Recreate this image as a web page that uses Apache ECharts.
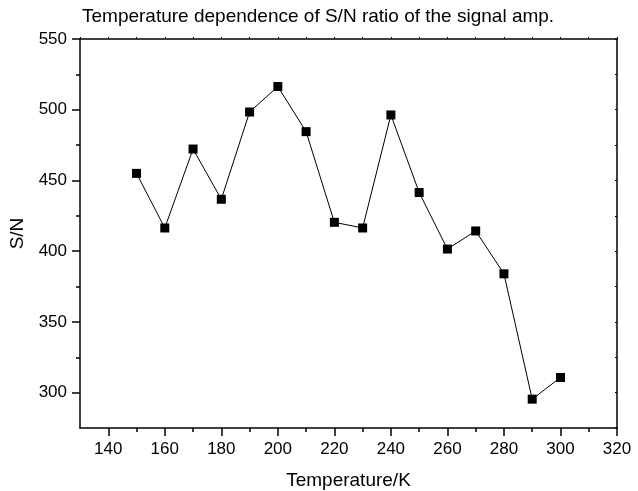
<!DOCTYPE html>
<html>
<head>
<meta charset="utf-8">
<script src="https://cdn.jsdelivr.net/npm/echarts@6/dist/echarts.min.js"></script>
<style>
html, body { margin: 0; padding: 0; background: #fff; }
#chart { width: 638px; height: 491px; }
</style>
</head>
<body>
<div id="chart"></div>
<script>
// temperatures (K) and measured S/N
var temps = [150, 160, 170, 180, 190, 200, 210, 220, 230, 240, 250, 260, 270, 280, 290, 300];
var snr = [455, 416.4, 472.2, 436.7, 498.4, 516.4, 484.5, 420.4, 416.4, 496.3, 441.5, 401.5, 414.3, 384, 295.4, 310.7];

var xMajor = [140, 160, 180, 200, 220, 240, 260, 280, 300, 320];
var xMinor = [150, 170, 190, 210, 230, 250, 270, 290, 310];
var yMajor = [300, 350, 400, 450, 500, 550];
var yMinor = [325, 375, 425, 475, 525];

var font = 'Liberation Sans, Arial, sans-serif';
var chart = echarts.init(document.getElementById('chart'));

var lineStyle = { color: '#000', width: 1.5 };

var option = {
	animation: false,
	title: {
		text: 'Temperature dependence of S/N ratio of the signal amp.',
		left: 77,
		top: 2,
		textStyle: { fontFamily: font, fontSize: 19, fontWeight: 'normal', color: '#000' }
	},
	grid: { left: 80, right: 21, top: 39, bottom: 63, containLabel: false, outerBoundsMode: 'none' },
	xAxis: [
		{
			type: 'value', min: 130, max: 320, interval: 10, position: 'bottom',
			name: 'Temperature/K', nameLocation: 'middle', nameGap: 43,
			nameTextStyle: { fontFamily: font, fontSize: 19, color: '#000' },
			axisLine: { show: true, onZero: false, lineStyle: lineStyle },
			axisTick: { show: true, length: 8, customValues: xMajor, lineStyle: lineStyle },
			axisLabel: { customValues: xMajor, margin: 13, fontFamily: font, fontSize: 17, color: '#000' },
			splitLine: { show: false }
		},
		{
			type: 'value', min: 130, max: 320, interval: 10, position: 'bottom',
			axisLine: { show: false },
			axisTick: { show: true, length: 4, customValues: xMinor, lineStyle: lineStyle },
			axisLabel: { show: false },
			splitLine: { show: false }
		},
		{
			type: 'value', min: 130, max: 320, interval: 10, position: 'top',
			axisLine: { show: true, onZero: false, lineStyle: lineStyle },
			axisTick: { show: true, length: 2, lineStyle: { color: '#000', width: 1 } },
			axisLabel: { show: false },
			splitLine: { show: false }
		}
	],
	yAxis: [
		{
			type: 'value', min: 275, max: 550, interval: 25, position: 'left',
			name: 'S/N', nameLocation: 'middle', nameGap: 53, nameRotate: 90,
			nameTextStyle: { fontFamily: font, fontSize: 19, color: '#000' },
			axisLine: { show: true, onZero: false, lineStyle: lineStyle },
			axisTick: { show: true, length: 8, customValues: yMajor, lineStyle: lineStyle },
			axisLabel: { customValues: yMajor, margin: 13, fontFamily: font, fontSize: 17, color: '#000' },
			splitLine: { show: false }
		},
		{
			type: 'value', min: 275, max: 550, interval: 25, position: 'left',
			axisLine: { show: false },
			axisTick: { show: true, length: 4, customValues: yMinor, lineStyle: lineStyle },
			axisLabel: { show: false },
			splitLine: { show: false }
		},
		{
			type: 'value', min: 275, max: 550, interval: 25, position: 'right',
			axisLine: { show: true, onZero: false, lineStyle: lineStyle },
			axisTick: { show: true, inside: true, length: 2, lineStyle: { color: '#000', width: 1 } },
			axisLabel: { show: false },
			splitLine: { show: false }
		}
	],
	series: [
		{
			type: 'line',
			xAxisIndex: 0,
			yAxisIndex: 0,
			data: temps.map(function(t, i) { return [t, snr[i]]; }),
			symbol: 'rect',
			symbolSize: 9,
			itemStyle: { color: '#000' },
			lineStyle: { color: '#000', width: 1 }
		}
	]
};
chart.setOption(option);
</script>
</body>
</html>
